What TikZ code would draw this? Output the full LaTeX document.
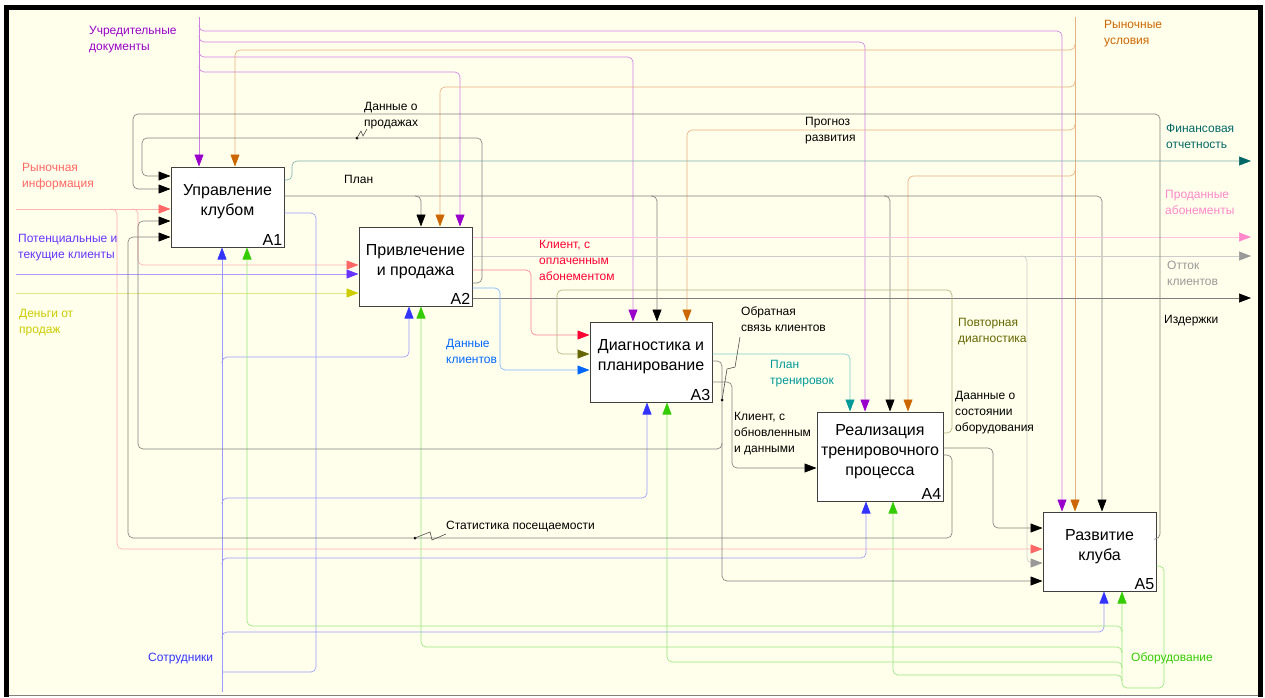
\documentclass[tikz,border=0pt]{standalone}
\usepackage{fontspec}
\setmainfont{Liberation Sans}
\usepackage{xcolor}
\usetikzlibrary{
    arrows.meta,
    calc
}

\definecolor{paper}{HTML}{FFFFEB}
\definecolor{ucPurple}{HTML}{9900CC}
\definecolor{ruOrange}{HTML}{CC6600}
\definecolor{riSalmon}{HTML}{FF6666}
\definecolor{pkViolet}{HTML}{6633FF}
\definecolor{dpYellow}{HTML}{CCCC00}
\definecolor{stBlue}{HTML}{3333FF}
\definecolor{obGreen}{HTML}{33CC00}
\definecolor{foTeal}{HTML}{006666}
\definecolor{paPink}{HTML}{FF88CC}
\definecolor{okGray}{HTML}{999999}
\definecolor{koRed}{HTML}{FF0033}
\definecolor{dkBlue}{HTML}{0066FF}
\definecolor{ptTeal}{HTML}{009999}
\definecolor{pdOlive}{HTML}{666600}

\begin{document}
\begin{tikzpicture}[
        x=1pt, y=-1pt,
        box/.style={
            rectangle,
            draw=black!75,
            line width=1pt,
            fill=white,
            inner sep=0pt
        },
        boxtxt/.style={
            align=center,
            font=\fontsize{16}{20}\selectfont,
            yshift=5pt
        },
        idx/.style={
            anchor=south east,
            inner sep=2pt,
            font=\fontsize{16}{16}\selectfont
        },
        lbl/.style={
            anchor=north west,
            inner sep=0pt,
            align=left,
            font=\fontsize{12}{16}\selectfont,
            text=#1
        },
        flow/.style={
            draw=#1!50,
            line width=0.65pt,
            rounded corners=5pt,
            -{Triangle[length=12pt,width=9pt,color=#1]}
        },
        pipe/.style={
            draw=#1!50,
            line width=0.65pt,
            rounded corners=5pt
        },
        squig/.style={
            draw=black!70,
            line width=0.6pt
        }
    ]

    \useasboundingbox (0,0) rectangle (1265,697);
    \fill[white] (0,0) rectangle (1265,697);
    \fill[paper] (9,10) rectangle (1258,695);
    \draw[line width=5pt] (6.5,697) -- (6.5,7.5) -- (1260.5,7.5) -- (1260.5,697);
    \draw[black!50, line width=1pt] (9,695.5) -- (1258,695.5);

    % functions
    \node[box, minimum width=113pt, minimum height=80pt,
        label={[boxtxt]center:Управление\\клубом},
        label={[idx]south east:A1}] (a1) at (227.5,207) {};
    \node[box, minimum width=113pt, minimum height=79pt,
        label={[boxtxt]center:Привлечение\\и продажа},
        label={[idx]south east:A2}] (a2) at (415.5,266.5) {};
    \node[box, minimum width=122pt, minimum height=80pt,
        label={[boxtxt]center:Диагностика и\\планирование},
        label={[idx]south east:A3}] (a3) at (651,362) {};
    \node[box, minimum width=126pt, minimum height=89pt,
        label={[boxtxt]center:Реализация\\тренировочного\\процесса},
        label={[idx]south east:A4}] (a4) at (880,456.5) {};
    \node[box, minimum width=113pt, minimum height=79pt,
        label={[boxtxt]center:Развитие\\клуба},
        label={[idx]south east:A5}] (a5) at (1099.5,551.5) {};

    % boundary ends
    \coordinate (ud) at (199,17);
    \coordinate (ru) at (1075,17);
    \coordinate (ri) at (16,209);
    \coordinate (pk) at (16,274);
    \coordinate (dp) at (16,293);
    \coordinate (st) at (222,692);
    \coordinate (fo) at (1251,161);
    \coordinate (pa) at (1251,237);
    \coordinate (ok) at (1251,256);
    \coordinate (iz) at (1251,298);

    % controls
    \draw[flow=ucPurple] (ud) -- (a1.north -| 199,0);
    \draw[flow=ucPurple] (199,66) -- (199,72) -- (460,72) -- (a2.north -| 460,0);
    \draw[flow=ucPurple] (199,51) -- (199,57) -- (633,57) -- (a3.north -| 633,0);
    \draw[flow=ucPurple] (199,36) -- (199,42) -- (865,42) -- (a4.north -| 865,0);
    \draw[flow=ucPurple] (199,25) -- (199,31) -- (1062,31) -- (a5.north -| 1062,0);

    \draw[flow=ruOrange] (ru) -- (a5.north -| 1075,0);
    \draw[flow=ruOrange] (1075,44) -- (1075,50) -- (235,50) -- (a1.north -| 235,0);
    \draw[flow=ruOrange] (1075,81) -- (1075,87) -- (440,87) -- (a2.north -| 440,0);
    \draw[flow=ruOrange] (1075,124) -- (1075,130) -- (687,130) -- (a3.north -| 687,0);
    \draw[flow=ruOrange] (1075,170) -- (1075,176) -- (908,176) -- (a4.north -| 908,0);

    \draw[flow=black] (a1.east |- 0,196) -- (1102,196) -- (a5.north -| 1102,0);
    \draw[flow=black] (415,196) -- (421,196) -- (a2.north -| 421,0);
    \draw[flow=black] (651,196) -- (657,196) -- (a3.north -| 657,0);
    \draw[flow=black] (884,196) -- (890,196) -- (a4.north -| 890,0);

    \draw[flow=ptTeal] (a3.east |- 0,354) -- (850,354) -- (a4.north -| 850,0);

    % inputs
    \draw[flow=riSalmon] (ri) -- (a1.west |- 0,209);
    \draw[flow=riSalmon] (132,209) -- (138,209) -- (138,265) -- (a2.west |- 0,265);
    \draw[flow=riSalmon] (111,209) -- (117,209) -- (117,549) -- (a5.west |- 0,549);
    \draw[flow=pkViolet] (pk) -- (a2.west |- 0,274);
    \draw[flow=dpYellow] (dp) -- (a2.west |- 0,293);

    % mechanisms
    \draw[flow=stBlue] (st) -- (a1.south -| 222,0);
    \draw[flow=stBlue] (222,363) -- (222,357) -- (409,357) -- (a2.south -| 409,0);
    \draw[flow=stBlue] (222,504) -- (222,498) -- (647,498) -- (a3.south -| 647,0);
    \draw[flow=stBlue] (222,564) -- (222,558) -- (866,558) -- (a4.south -| 866,0);
    \draw[flow=stBlue] (222,638) -- (222,632) -- (1104,632) -- (a5.south -| 1104,0);
    \draw[pipe=stBlue] (a1.east |- 0,213) -- (316,213) -- (316,672) -- (222,672);

    \draw[flow=obGreen] (a5.east |- 0,566) -- (1164,566) -- (1164,688)
        -- (1122,688) -- (a5.south -| 1122,0);
    \draw[flow=obGreen] (1122,632) -- (1122,626) -- (247,626) -- (a1.south -| 247,0);
    \draw[flow=obGreen] (1122,653) -- (1122,647) -- (421,647) -- (a2.south -| 421,0);
    \draw[flow=obGreen] (1122,668) -- (1122,662) -- (667,662) -- (a3.south -| 667,0);
    \draw[flow=obGreen] (1122,681) -- (1122,675) -- (893,675) -- (a4.south -| 893,0);

    % outputs
    \draw[flow=foTeal] (a1.east |- 0,180) -- (292,180) -- (292,161) -- (fo);
    \draw[flow=paPink] (a2.east |- 0,237) -- (pa);
    \draw[flow=okGray] (a2.east |- 0,256) -- (ok);
    \draw[flow=okGray] (1021,256) -- (1027,256) -- (1027,563) -- (a5.west |- 0,563);
    \draw[flow=black] (a2.east |- 0,298) -- (iz);

    \draw[flow=koRed] (a2.east |- 0,270) -- (531,270) -- (531,335) -- (a3.west |- 0,335);
    \draw[flow=dkBlue] (a2.east |- 0,288) -- (500,288) -- (500,370) -- (a3.west |- 0,370);
    \draw[flow=black] (a2.east |- 0,283) -- (482,283) -- (482,138) -- (142,138)
        -- (142,176) -- (a1.west |- 0,176);
    \draw[flow=black] (a5.east |- 0,539) -- (1160,539) -- (1160,114) -- (133,114)
        -- (133,189) -- (a1.west |- 0,189);

    \draw[flow=black] (a3.east |- 0,361) -- (722,361) -- (722,581) -- (a5.west |- 0,581);
    \draw[flow=black] (722,443) -- (722,449) -- (138,449)
        -- (138,221) -- (a1.west |- 0,221);
    \draw[flow=black] (a3.east |- 0,382) -- (732,382) -- (732,468) -- (a4.west |- 0,468);

    \draw[flow=pdOlive] (a4.east |- 0,433) -- (952,433) -- (952,290) -- (557,290)
        -- (557,354) -- (a3.west |- 0,354);
    \draw[flow=black] (a4.east |- 0,448) -- (993,448) -- (993,528) -- (a5.west |- 0,528);
    \draw[flow=black] (a4.east |- 0,455) -- (952,455) -- (952,538) -- (128,538)
        -- (128,237) -- (a1.west |- 0,237);

    % labels
    \node[lbl=ucPurple] (udl) at (89,26) {Учредительные\\документы};
    \node[lbl=ruOrange] (rul) at (1104,20) {Рыночные\\условия};
    \node[lbl=riSalmon] (ril) at (22,163) {Рыночная\\информация};
    \node[lbl=pkViolet] (pkl) at (18,234) {Потенциальные и\\текущие клиенты};
    \node[lbl=dpYellow] (dpl) at (19,309) {Деньги от\\продаж};
    \node[lbl=stBlue] (stl) at (148,653) {Сотрудники};
    \node[lbl=obGreen] (obl) at (1131,652) {Оборудование};
    \node[lbl=foTeal] (fol) at (1166,124) {Финансовая\\отчетность};
    \node[lbl=paPink] (pal) at (1165,190) {Проданные\\абонементы};
    \node[lbl=okGray] (okl) at (1167,261) {Отток\\клиентов};
    \node[lbl=black] (izl) at (1164,315) {Издержки};
    \node[lbl=black] (dsl) at (364,102) {Данные о\\продажах};
    \node[lbl=black] (pll) at (344,175) {План};
    \node[lbl=black] (prl) at (805,117) {Прогноз\\развития};
    \node[lbl=koRed] (kol) at (539,240) {Клиент, с\\оплаченным\\абонементом};
    \node[lbl=dkBlue] (dkl) at (446,339) {Данные\\клиентов};
    \node[lbl=black] (osl) at (741,306) {Обратная\\связь клиентов};
    \node[lbl=ptTeal] (ptl) at (770,360) {План\\тренировок};
    \node[lbl=pdOlive] (pdl) at (958,318) {Повторная\\диагностика};
    \node[lbl=black] (kdl) at (734,412) {Клиент, с\\обновленным\\и данными};
    \node[lbl=black] (sol) at (955,391) {Даанные о\\состоянии\\оборудования};
    \node[lbl=black] (spl) at (446,521) {Статистика посещаемости};

    % squiggles
    \fill (357,138) circle (1.5pt);
    \draw[squig] (357,138) -- (361,131) -- (363,136) -- (367,129);
    \fill (722,400) circle (1.5pt);
    \draw[squig] (722,400) -- (727,369) -- (735,367) -- (740,337);
    \fill (415,538) circle (1.5pt);
    \draw[squig] (415,538) -- (430,532) -- (432,540) -- (446,534);

\end{tikzpicture}
\end{document}
